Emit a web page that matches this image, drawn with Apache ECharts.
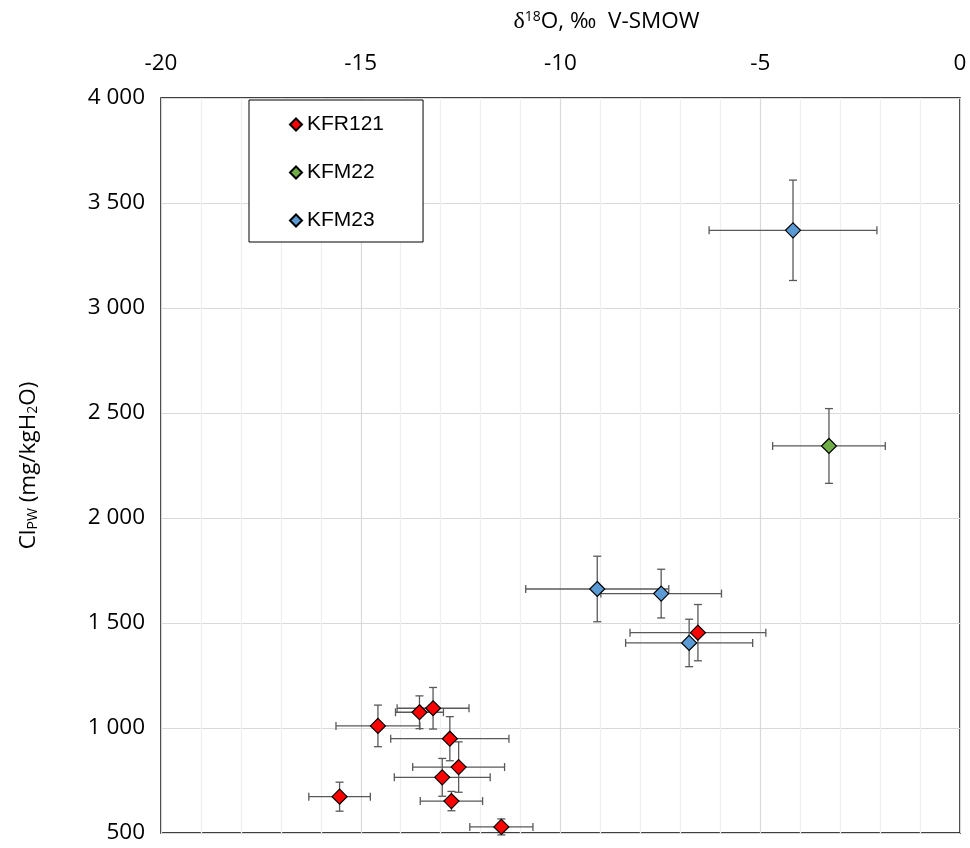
<!DOCTYPE html>
<html>
<head>
<meta charset="utf-8">
<script src="https://cdn.jsdelivr.net/npm/echarts@6/dist/echarts.min.js"></script>
<style>
  html, body { margin: 0; padding: 0; background: #ffffff; }
  #chart { width: 970px; height: 848px; }
</style>
</head>
<body>
<div id="chart"></div>
<script>
// Pore water chloride vs. oxygen isotope composition, with ±error bars
const seriesNames = ['KFR121', 'KFM22', 'KFM23'];

// KFR121
const kfr121D18O   = [-15.53, -14.57, -13.53, -13.19, -12.77, -12.55, -12.96, -12.73, -11.48, -6.56];
const kfr121Cl     = [673, 1010, 1075, 1094, 949, 814, 765, 652, 529, 1454];
const kfr121D18OEr = [0.77, 1.05, 0.60, 0.90, 1.48, 1.15, 1.20, 0.78, 0.79, 1.70];
const kfr121ClEr   = [69, 99, 78, 99, 105, 120, 90, 46, 38, 134];

// KFM22
const kfm22D18O   = [-3.28];
const kfm22Cl     = [2343];
const kfm22D18OEr = [1.41];
const kfm22ClEr   = [178];

// KFM23
const kfm23D18O   = [-9.08, -7.48, -6.78, -4.18];
const kfm23Cl     = [1662, 1640, 1405, 3370];
const kfm23D18OEr = [1.79, 1.51, 1.59, 2.10];
const kfm23ClEr   = [156, 116, 113, 239];

// Axis ranges
const xRange = [-20, 0];
const yRange = [500, 4000];

const colors = ['#ff0000', '#70ad47', '#5b9bd5'];
const uiFont = 'Open Sans';

function fmtThousands(v) {
  return String(v).replace(/\B(?=(\d{3})+(?!\d))/g, ' ');
}

function zip(xs, ys, xe, ye) {
  return xs.map((x, i) => [x, ys[i], xe[i], ye[i]]);
}

function errorBars(name, data) {
  return {
    type: 'custom',
    name: name + ' error',
    data: data,
    z: 2,
    silent: true,
    clip: false,
    encode: { x: 0, y: 1 },
    renderItem(params, api) {
      const x = api.value(0), y = api.value(1);
      const dx = api.value(2), dy = api.value(3);
      const l = api.coord([x - dx, y]);
      const r = api.coord([x + dx, y]);
      const t = api.coord([x, y + dy]);
      const b = api.coord([x, y - dy]);
      const c = 4;
      const style = { stroke: '#595959', lineWidth: 1.3, fill: null };
      const seg = (x1, y1, x2, y2) => ({ type: 'line', shape: { x1, y1, x2, y2 }, style });
      return {
        type: 'group',
        children: [
          seg(l[0], l[1], r[0], r[1]),
          seg(l[0], l[1] - c, l[0], l[1] + c),
          seg(r[0], r[1] - c, r[0], r[1] + c),
          seg(t[0], t[1], b[0], b[1]),
          seg(t[0] - c, t[1], t[0] + c, t[1]),
          seg(b[0] - c, b[1], b[0] + c, b[1])
        ]
      };
    }
  };
}

function points(name, xs, ys, color) {
  return {
    type: 'scatter',
    name: name,
    data: xs.map((x, i) => [x, ys[i]]),
    symbol: 'diamond',
    symbolSize: 15,
    z: 3,
    itemStyle: { color: color, borderColor: '#000000', borderWidth: 1.2, opacity: 1 }
  };
}

const chart = echarts.init(document.getElementById('chart'), null, { renderer: 'canvas' });

chart.setOption({
  animation: false,
  backgroundColor: '#ffffff',
  grid: {
    left: 161, right: 10, top: 98, bottom: 15,
    show: true, borderColor: '#000000', borderWidth: 1.5, backgroundColor: 'transparent'
  },
  legend: {
    data: seriesNames,
    orient: 'vertical',
    left: 249, top: 100,
    icon: 'diamond',
    itemWidth: 12, itemHeight: 12,
    itemGap: 27,
    padding: [14, 39, 11, 40],
    borderColor: '#000000', borderWidth: 1,
    backgroundColor: '#ffffff',
    textStyle: { fontFamily: 'Liberation Sans', fontSize: 21, color: '#000000' }
  },
  xAxis: {
    type: 'value',
    position: 'top',
    min: xRange[0], max: xRange[1], interval: 5,
    axisLine: { show: false },
    axisTick: { show: false },
    axisLabel: { fontFamily: uiFont, fontSize: 22.5, color: '#000000', margin: 23 },
    splitLine: { show: true, lineStyle: { color: '#d9d9d9', width: 1.2 } },
    minorTick: { show: false, splitNumber: 5 },
    minorSplitLine: { show: true, lineStyle: { color: '#efefef', width: 1.3 } },
    name: '{d|δ}{s|18}{t|O, ‰  V-SMOW}',
    nameLocation: 'middle',
    nameGap: 64,
    nameTextStyle: {
      padding: [0, 0, 0, 92],
      rich: {
        d: { fontFamily: 'Liberation Serif', fontSize: 24, color: '#000000' },
        s: { fontFamily: uiFont, fontSize: 14, color: '#000000', verticalAlign: 'top', lineHeight: 15 },
        t: { fontFamily: uiFont, fontSize: 22.5, color: '#000000' }
      }
    }
  },
  yAxis: {
    type: 'value',
    min: yRange[0], max: yRange[1], interval: 500,
    axisLine: { show: false },
    axisTick: { show: false },
    axisLabel: { fontFamily: uiFont, fontSize: 22.5, color: '#000000', margin: 16, formatter: fmtThousands },
    splitLine: { show: true, lineStyle: { color: '#d9d9d9', width: 1.2 } },
    name: '{t|Cl}{s|PW}{t| (mg/kgH}{s|2}{t|O)}',
    nameLocation: 'middle',
    nameRotate: 90,
    nameGap: 121,
    nameTextStyle: {
      rich: {
        t: { fontFamily: uiFont, fontSize: 22.5, color: '#000000' },
        s: { fontFamily: uiFont, fontSize: 14, color: '#000000', verticalAlign: 'bottom', lineHeight: 15 }
      }
    }
  },
  series: [
    errorBars('KFR121', zip(kfr121D18O, kfr121Cl, kfr121D18OEr, kfr121ClEr)),
    points('KFR121', kfr121D18O, kfr121Cl, colors[0]),
    errorBars('KFM22', zip(kfm22D18O, kfm22Cl, kfm22D18OEr, kfm22ClEr)),
    points('KFM22', kfm22D18O, kfm22Cl, colors[1]),
    errorBars('KFM23', zip(kfm23D18O, kfm23Cl, kfm23D18OEr, kfm23ClEr)),
    points('KFM23', kfm23D18O, kfm23Cl, colors[2])
  ]
});
</script>
</body>
</html>
